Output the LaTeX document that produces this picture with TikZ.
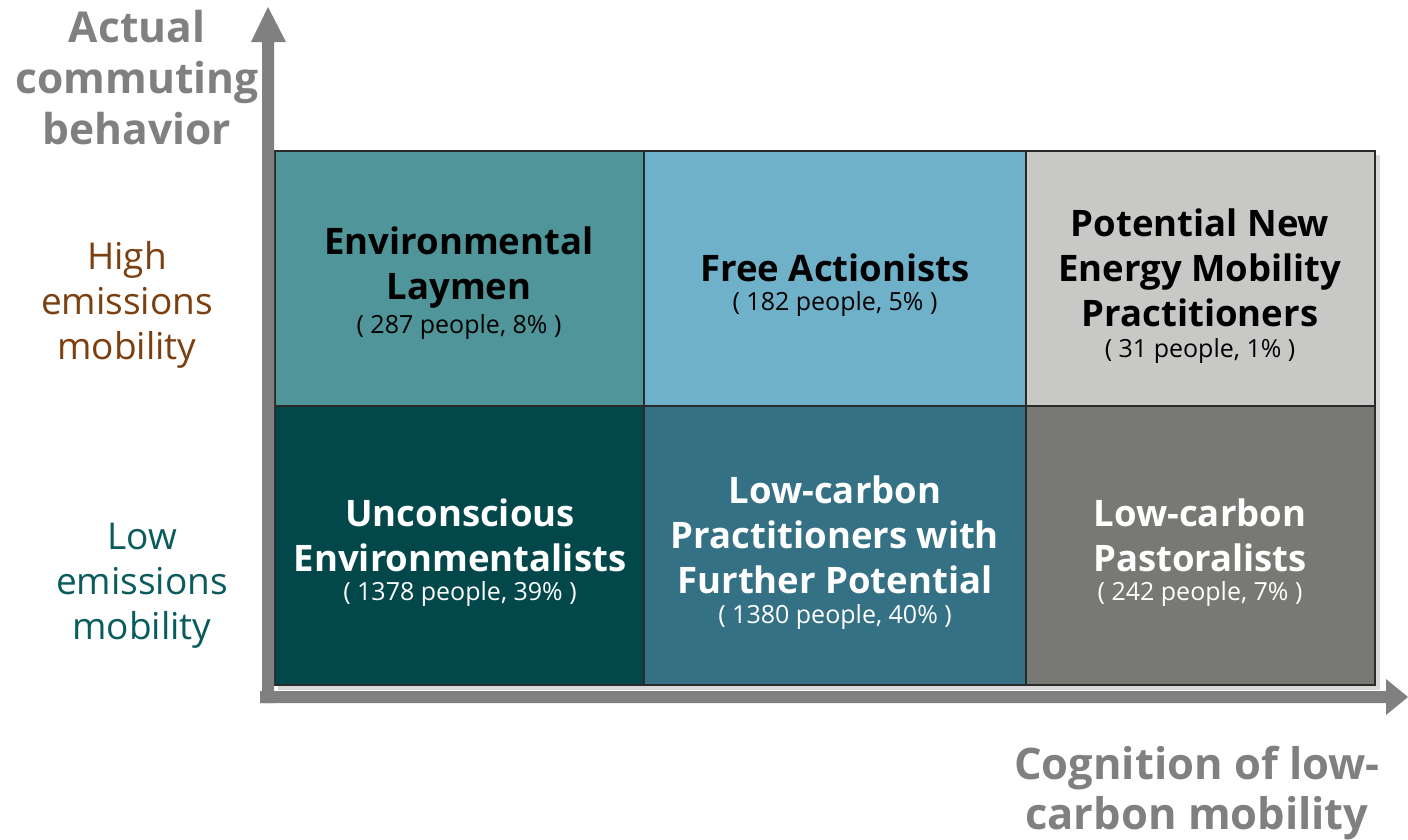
\documentclass[tikz,border=0pt]{standalone}
\usepackage{fontspec}
\setmainfont{Open Sans}
\definecolor{axisgray}{HTML}{808080}
\definecolor{cLay}{HTML}{4F9599}
\definecolor{cFree}{HTML}{70B1CA}
\definecolor{cPot}{HTML}{C8C8C6}
\definecolor{cUnc}{HTML}{02484A}
\definecolor{cLow}{HTML}{357185}
\definecolor{cPas}{HTML}{787874}
\definecolor{highbrown}{HTML}{7B3F10}
\definecolor{lowteal}{HTML}{0A5C5C}
\definecolor{gridline}{HTML}{2A2A2A}
\begin{document}
\begin{tikzpicture}[x=1pt,y=-1pt,
  cell/.style={draw=gridline,line width=1.2pt},
  ttl/.style={align=center,font=\bfseries\fontsize{36.5}{45}\selectfont,inner sep=0pt},
  sub/.style={align=center,font=\fontsize{25}{28}\selectfont,inner sep=0pt},
  axlab/.style={align=center,text=axisgray,font=\bfseries\fontsize{42.5}{51}\selectfont,inner sep=0pt},
  xaxlab/.style={axlab,font=\bfseries\fontsize{43.5}{50}\selectfont},
  sidelab/.style={align=center,font=\fontsize{37}{45}\selectfont,inner sep=0pt}]
\useasboundingbox (0,0) rectangle (1408,839);
% shadow
\fill[black!15] (278,155) rectangle (1380,690);
% cells
\fill[cLay]  (275,151) rectangle (644,406);
\fill[cFree] (644,151) rectangle (1026,406);
\fill[cPot]  (1026,151) rectangle (1375,406);
\fill[cUnc]  (275,406) rectangle (644,685);
\fill[cLow]  (644,406) rectangle (1026,685);
\fill[cPas]  (1026,406) rectangle (1375,685);
\draw[cell] (275,151) rectangle (1375,685);
\draw[cell] (275,406) -- (1375,406);
\draw[cell] (644,151) -- (644,685);
\draw[cell] (1026,151) -- (1026,685);
% axes
\fill[axisgray] (262,703) -- (262,42) -- (251,42) -- (268,7) -- (286,42) -- (274,42) -- (274,703) -- cycle;
\fill[axisgray] (260,691) -- (1386,691) -- (1386,679) -- (1408,697) -- (1386,715) -- (1386,703) -- (260,703) -- cycle;
% axis labels
\node[axlab] (ylab) at (137,78) {Actual\\commuting\\behavior};
\node[xaxlab] (xlab) at (1197,793) {Cognition of low-\\carbon mobility};
% side labels
\node[sidelab,text=highbrown] (high) at (127,305) {High\\emissions\\mobility};
\node[sidelab,text=lowteal] (low) at (142,586) {Low\\emissions\\mobility};
% cell texts
\node[ttl] (t1) at (459,268) {Environmental\\Laymen};
\node[sub] (s1) at (459,327) {( 287 people, 8\% )};
\node[ttl] (t2) at (835,268) {Free Actionists};
\node[sub] (s2) at (835,304) {( 182 people, 5\% )};
\node[ttl] (t3) at (1200,268) {Potential New\\Energy Mobility\\Practitioners};
\node[sub] (s3) at (1200,351) {( 31 people, 1\% )};
\node[ttl,text=white] (t4) at (460,535) {Unconscious\\Environmentalists};
\node[sub,text=white] (s4) at (460,594) {( 1378 people, 39\% )};
\node[ttl,text=white] (t5) at (835,535) {Low-carbon\\Practitioners with\\Further Potential};
\node[sub,text=white] (s5) at (835,617) {( 1380 people, 40\% )};
\node[ttl,text=white] (t6) at (1200,535) {Low-carbon\\Pastoralists};
\node[sub,text=white] (s6) at (1200,594) {( 242 people, 7\% )};
\end{tikzpicture}
\end{document}
